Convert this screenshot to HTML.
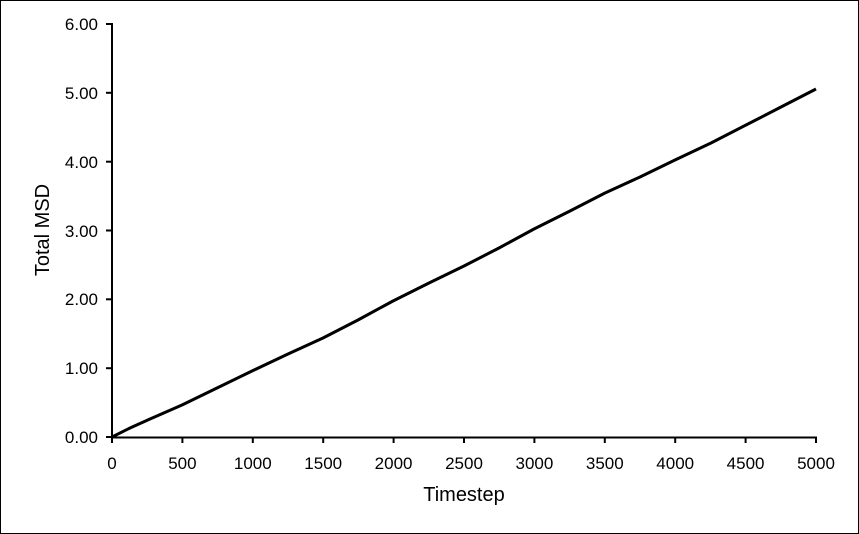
<!DOCTYPE html>
<html><head><style>
body{margin:0;background:#fff}
svg{display:block}
text{font-family:"Liberation Sans",sans-serif;fill:#000}
</style></head><body>
<svg width="859" height="534" viewBox="0 0 859 534">
<rect x="0.5" y="0.5" width="858" height="533" fill="#fff" stroke="#000" stroke-width="1"/>
<g stroke="#000" stroke-width="2">
<line x1="112" y1="23" x2="112" y2="438"/>
<line x1="111" y1="437.5" x2="817" y2="437.5"/>
<line x1="106" y1="24" x2="112" y2="24"/>
<line x1="106" y1="92.8" x2="112" y2="92.8"/>
<line x1="106" y1="161.7" x2="112" y2="161.7"/>
<line x1="106" y1="230.5" x2="112" y2="230.5"/>
<line x1="106" y1="299.3" x2="112" y2="299.3"/>
<line x1="106" y1="368.2" x2="112" y2="368.2"/>
<line x1="106" y1="437" x2="112" y2="437"/>
<line x1="112" y1="437" x2="112" y2="443"/>
<line x1="182.4" y1="437" x2="182.4" y2="443"/>
<line x1="252.8" y1="437" x2="252.8" y2="443"/>
<line x1="323.2" y1="437" x2="323.2" y2="443"/>
<line x1="393.6" y1="437" x2="393.6" y2="443"/>
<line x1="464" y1="437" x2="464" y2="443"/>
<line x1="534.4" y1="437" x2="534.4" y2="443"/>
<line x1="604.8" y1="437" x2="604.8" y2="443"/>
<line x1="675.2" y1="437" x2="675.2" y2="443"/>
<line x1="745.6" y1="437" x2="745.6" y2="443"/>
<line x1="816" y1="437" x2="816" y2="443"/>
</g>
<g font-size="17" text-anchor="end">
<text x="98" y="30">6.00</text>
<text x="98" y="99">5.00</text>
<text x="98" y="168">4.00</text>
<text x="98" y="237">3.00</text>
<text x="98" y="305">2.00</text>
<text x="98" y="374">1.00</text>
<text x="98" y="443">0.00</text>
</g>
<g font-size="17" text-anchor="middle">
<text x="112" y="469">0</text>
<text x="182.4" y="469">500</text>
<text x="252.8" y="469">1000</text>
<text x="323.2" y="469">1500</text>
<text x="393.6" y="469">2000</text>
<text x="464" y="469">2500</text>
<text x="534.4" y="469">3000</text>
<text x="604.8" y="469">3500</text>
<text x="675.2" y="469">4000</text>
<text x="745.6" y="469">4500</text>
<text x="816" y="469">5000</text>
<text x="464" y="501" font-size="20">Timestep</text>
<text transform="translate(49,230) rotate(-90)" font-size="20">Total MSD</text>
</g>
<polyline fill="none" stroke="#000" stroke-width="3" stroke-linejoin="round"
points="112,437 130,428 150,419 182,405 217,388 252,371 288,354 323,338 358,320 393,301 429,283 464,266 499,248 534,229 570,211 605,193 640,177 675,160 711,143 746,125 781,107 816,89"/>
</svg>
</body></html>
